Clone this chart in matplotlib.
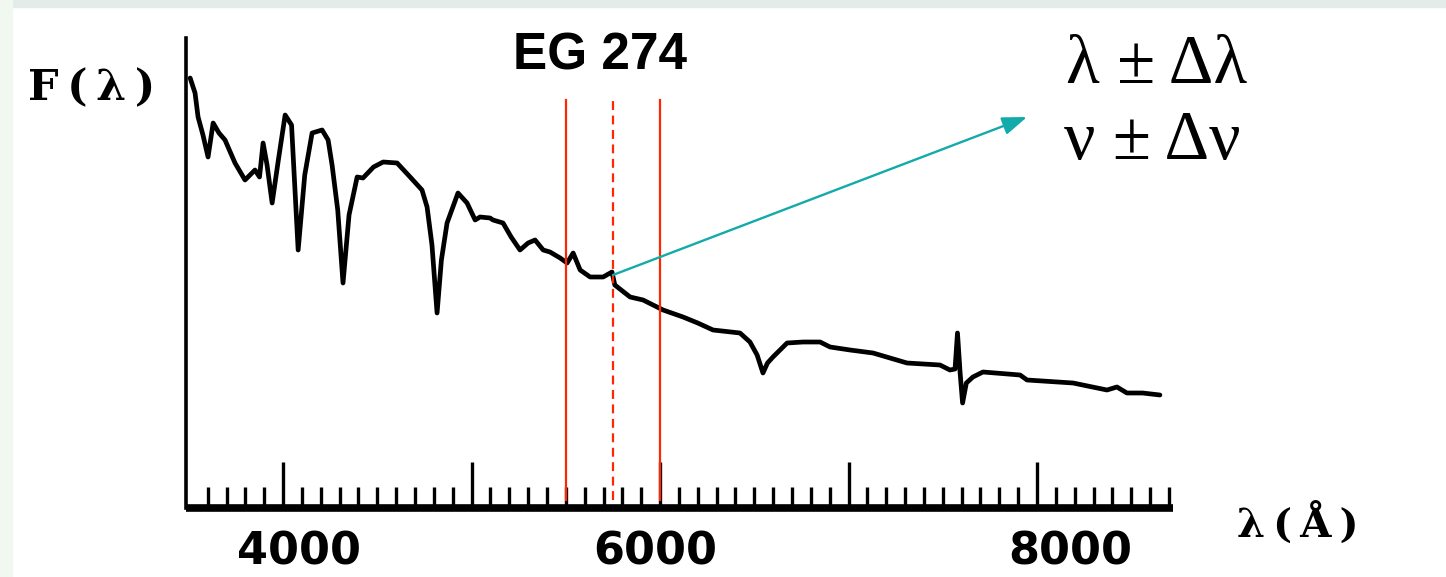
#!/usr/bin/env python3

"""Spectrum of the white dwarf EG 274 with a marked passband."""

import matplotlib
matplotlib.use("Agg")
import matplotlib.pyplot as plt
from matplotlib.patches import Rectangle
from matplotlib.ticker import FixedLocator, FuncFormatter
from matplotlib.transforms import ScaledTranslation

# wavelength (Angstrom) and flux (arbitrary units)
wave = [
    3507, 3533, 3549, 3575, 3602, 3629, 3660, 3692, 3745, 3798, 3851, 3875,
    3894, 3915, 3942, 3975, 4011, 4045, 4080, 4115, 4154, 4207, 4239, 4260,
    4290, 4318, 4350, 4393, 4424, 4480, 4531, 4605, 4674, 4737, 4764, 4790,
    4817, 4840, 4870, 4928, 4976, 5019, 5045, 5098, 5114, 5167, 5210, 5257,
    5300, 5337, 5380, 5416, 5470, 5507, 5539, 5576, 5629, 5698, 5745, 5760,
    5841, 5910, 6016, 6122, 6200, 6281, 6424, 6477, 6515, 6546, 6570, 6599,
    6674, 6759, 6849, 6902, 7008, 7130, 7310, 7485, 7538, 7565, 7578, 7592,
    7605, 7625, 7660, 7713, 7910, 7947, 8191, 8371, 8424, 8477, 8560, 8652,
]
flux = [
    4.27, 4.12, 3.88, 3.70, 3.48, 3.82, 3.72, 3.65, 3.42, 3.25, 3.35, 3.28,
    3.62, 3.40, 3.02, 3.45, 3.90, 3.80, 2.55, 3.30, 3.72, 3.75, 3.65, 3.40,
    2.95, 2.22, 2.90, 3.28, 3.27, 3.38, 3.43, 3.42, 3.28, 3.15, 2.98, 2.60,
    1.92, 2.45, 2.82, 3.12, 3.02, 2.85, 2.88, 2.87, 2.85, 2.82, 2.68, 2.55,
    2.62, 2.65, 2.55, 2.53, 2.47, 2.42, 2.52, 2.35, 2.28, 2.28, 2.33, 2.20,
    2.08, 2.05, 1.95, 1.88, 1.82, 1.75, 1.72, 1.63, 1.50, 1.32, 1.42, 1.48,
    1.62, 1.63, 1.63, 1.58, 1.55, 1.52, 1.42, 1.40, 1.35, 1.36, 1.72, 1.32,
    1.02, 1.22, 1.28, 1.33, 1.30, 1.25, 1.22, 1.15, 1.18, 1.12, 1.12, 1.10,
]

band_edges = [5500, 6000]
band_center = 5750
band_center_flux = 2.30
arrow_tip = (7947, 3.88)

major_ticks = [4000, 5000, 6000, 7000, 8000]
labelled_ticks = [4000, 6000, 8000]
minor_ticks = list(range(3600, 8800, 100))

TEAL = "#12AAAA"
RED = "#FF2600"

W, H = 1446, 577
fig = plt.figure(figsize=(W / 100, H / 100), dpi=100)
fig.patch.set_facecolor("white")

# faint slide background edges
fig.patches.append(Rectangle((0, 1 - 7 / H), 1, 7 / H, transform=fig.transFigure,
                             color="#E3ECE9", zorder=0))
fig.patches.append(Rectangle((0, 0), 12 / W, 1, transform=fig.transFigure,
                             color="#F1F8F0", zorder=0))

left_px, right_px, top_px, bot_px = 186, 1175, 38, 508
ax = fig.add_axes([left_px / W, 1 - bot_px / H, (right_px - left_px) / W,
                   (bot_px - top_px) / H])
ax.set_facecolor("none")
ax.set_xlim(3485, 8732)
ax.set_ylim(-0.03, 4.67)

ax.plot(wave, flux, color="black", linewidth=3.4, solid_joinstyle="round",
        solid_capstyle="round", zorder=3)

# passband markers
for edge in band_edges:
    ax.plot([edge, edge], [0.05, 4.05], color=RED, linewidth=1.6, zorder=4)
ax.plot([band_center, band_center], [0.05, 4.05], color=RED, linewidth=1.6,
        linestyle=(0, (4, 2.5)), zorder=4)

ax.annotate(
    "",
    xy=arrow_tip,
    xytext=(band_center, band_center_flux),
    arrowprops=dict(arrowstyle="-|>,head_length=1.5,head_width=0.55",
                    color=TEAL, linewidth=1.7, shrinkA=0, shrinkB=0),
    annotation_clip=False,
    zorder=5,
)

# axes drawn like the hand-made original
for side in ("top", "right"):
    ax.spines[side].set_visible(False)
ax.spines["left"].set_linewidth(2.6)
ax.spines["bottom"].set_linewidth(5.5)
ax.spines["bottom"].set_bounds(3485, 8720)
ax.spines["bottom"].set_capstyle("butt")

ax.yaxis.set_visible(False)
ax.xaxis.set_major_locator(FixedLocator(major_ticks))
ax.xaxis.set_minor_locator(FixedLocator(minor_ticks))
ax.xaxis.set_major_formatter(
    FuncFormatter(lambda v, _: f"{int(v)}" if int(v) in labelled_ticks else ""))
ax.tick_params(axis="x", which="major", direction="in", length=33, width=2.4,
               pad=16, labelsize=32, color="black")
ax.tick_params(axis="x", which="minor", direction="in", length=15, width=2.4,
               color="black")

# the scanned labels sit a little off their ticks
label_shift_px = {4000: 16, 6000: -5, 8000: 33}
fig.canvas.draw()
for tick in ax.xaxis.get_major_ticks():
    lbl = tick.label1
    lbl.set_fontfamily("DejaVu Sans")
    lbl.set_fontweight("bold")
    shift = label_shift_px.get(int(round(tick.get_loc())), 0)
    lbl.set_transform(lbl.get_transform()
                      + ScaledTranslation(shift / 100, 0, fig.dpi_scale_trans))

# labels
fig.text(92 / W, 1 - 100 / H, "F\u2009(\u2009λ\u2009)", family="DejaVu Serif",
         fontweight="bold", fontsize=31, ha="center", va="baseline")
fig.text(1298 / W, 1 - 538 / H, "λ\u2009(\u2009Å\u2009)", family="DejaVu Serif",
         fontweight="bold", fontsize=29, ha="center", va="baseline")
fig.text(600 / W, 1 - 69 / H, "EG 274", family="Liberation Sans", fontweight="bold",
         fontsize=37, ha="center", va="baseline")
fig.text(1066 / W, 1 - 83 / H, "λ ± Δλ", family="Liberation Serif", fontsize=50,
         ha="left", va="baseline")
fig.text(1064 / W, 1 - 159 / H, "ν ± Δν", family="Liberation Serif", fontsize=50,
         ha="left", va="baseline")

fig.savefig("out.png", dpi=100, facecolor=fig.get_facecolor())
